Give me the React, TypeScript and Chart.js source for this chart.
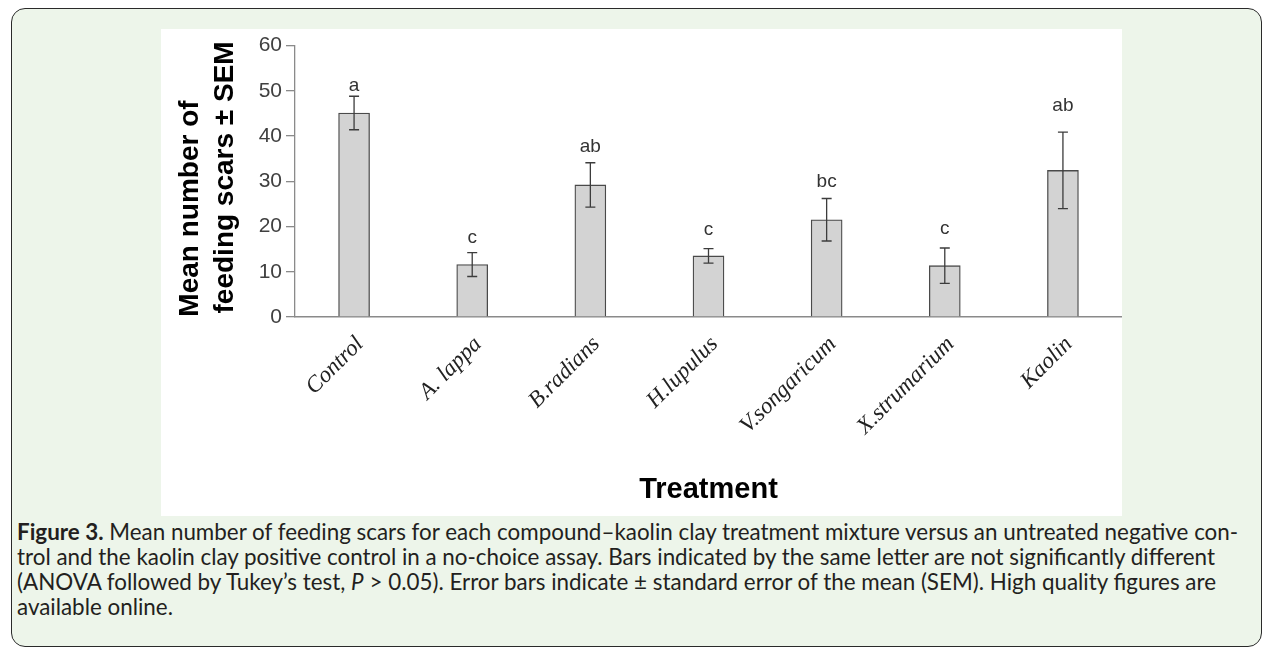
import React, { useEffect, useRef } from 'react';
import { Chart, registerables } from 'chart.js';

Chart.register(...registerables);

// ---- data ----
const categories = ['Control', 'A. lappa', 'B.radians', 'H.lupulus', 'V.songaricum', 'X.strumarium', 'Kaolin'];
const meanScars = [45.1, 11.6, 29.2, 13.5, 21.5, 11.35, 32.4];
const semScars = [3.7, 2.65, 4.9, 1.6, 4.7, 3.9, 8.45];
const groupLetters = ['a', 'c', 'ab', 'c', 'bc', 'c', 'ab'];
const letterLevels = [49.9, 16.4, 36.4, 18.1, 28.8, 18.4, 45.5];
const yTickValues = [0, 10, 20, 30, 40, 50, 60];
const yTitleLines = ['Mean number of\u00a0\u00a0\u00a0\u00a0\u00a0\u00a0\u00a0', '\u00a0feeding scars \u00b1 SEM'];
const xTitle = 'Treatment';

const captionLines = [
  [{ b: 'Figure 3.' }, { t: ' Mean number of feeding scars for each compound\u2013kaolin clay treatment mixture versus an untreated negative con-' }],
  [{ t: 'trol and the kaolin clay positive control in a no-choice assay. Bars indicated by the same letter are not significantly different' }],
  [{ t: '(ANOVA followed by Tukey\u2019s test, ' }, { i: 'P' }, { t: ' > 0.05). Error bars indicate \u00b1 standard error of the mean (SEM). High quality figures are' }],
  [{ t: 'available online.' }],
];

const errorAndLetters = {
  id: 'errorAndLetters',
  afterDatasetsDraw(chart: any) {
    const { ctx, scales } = chart;
    const x = scales.x;
    const y = scales.y;
    ctx.save();
    ctx.strokeStyle = '#3c3c3c';
    ctx.lineWidth = 1.3;
    const cap = 5;
    meanScars.forEach((m, i) => {
      const px = x.getPixelForValue(i);
      const top = y.getPixelForValue(m + semScars[i]);
      const bot = y.getPixelForValue(m - semScars[i]);
      ctx.beginPath();
      ctx.moveTo(px, top);
      ctx.lineTo(px, bot);
      ctx.moveTo(px - cap, top);
      ctx.lineTo(px + cap, top);
      ctx.moveTo(px - cap, bot);
      ctx.lineTo(px + cap, bot);
      ctx.stroke();
    });
    ctx.fillStyle = '#333333';
    ctx.font = '19px "Liberation Sans", Arial, sans-serif';
    ctx.textAlign = 'center';
    ctx.textBaseline = 'alphabetic';
    groupLetters.forEach((l, i) => {
      ctx.fillText(l, x.getPixelForValue(i), y.getPixelForValue(letterLevels[i]));
    });
    ctx.restore();
  },
};

export default function App() {
  const canvasRef = useRef<HTMLCanvasElement>(null);

  useEffect(() => {
    if (!canvasRef.current) return;
    const chart = new Chart(canvasRef.current, {
      type: 'bar',
      data: {
        labels: categories,
        datasets: [
          {
            data: meanScars,
            backgroundColor: '#d3d3d3',
            borderColor: '#4a4a4a',
            borderWidth: 1.3,
            barThickness: 31,
          },
        ],
      },
      options: {
        animation: false,
        responsive: true,
        maintainAspectRatio: false,
        layout: { padding: { left: 0, right: -19.4, top: 13.5, bottom: 0 } },
        plugins: {
          legend: { display: false },
          tooltip: { enabled: false },
        },
        scales: {
          x: {
            grid: { display: false, drawTicks: false },
            border: { display: true, color: '#8a8a8a', width: 1.5 },
            ticks: {
              autoSkip: false,
              maxRotation: 45,
              minRotation: 45,
              padding: 14,
              labelOffset: 6,
              color: '#222222',
              font: { family: '"Liberation Serif", "Times New Roman", serif', style: 'italic', size: 23 },
            },
            title: {
              display: true,
              text: xTitle,
              color: '#000000',
              font: { family: '"Liberation Sans", Arial, sans-serif', weight: 'bold', size: 29 },
              padding: { top: 0, bottom: 9 },
            },
            afterFit: (scale: any) => {
              scale.height = 199;
            },
          },
          y: {
            min: 0,
            max: 60,
            afterBuildTicks: (scale: any) => {
              scale.ticks = yTickValues.map((v) => ({ value: v }));
            },
            grid: { drawOnChartArea: false, drawTicks: true, tickLength: 9, color: '#8a8a8a', lineWidth: 1.3 },
            border: { display: true, color: '#8a8a8a', width: 1.3 },
            ticks: {
              padding: 4,
              color: '#404040',
              font: { family: '"Liberation Sans", Arial, sans-serif', size: 21 },
            },
            title: {
              display: true,
              text: yTitleLines,
              color: '#000000',
              font: { family: '"Liberation Sans", Arial, sans-serif', weight: 'bold', size: 28, lineHeight: 1.25 },
              padding: { top: 12, bottom: 0 },
            },
            afterFit: (scale: any) => {
              scale.width = 134;
            },
          },
        },
      },
      plugins: [errorAndLetters],
    } as any);
    return () => chart.destroy();
  }, []);

  return (
    <div style={{ position: 'absolute', left: 0, top: 0, width: 1268, height: 650, overflow: 'hidden', background: '#ffffff' }}>
      <div
        style={{
          position: 'absolute',
          left: 11,
          top: 8,
          width: 1251,
          height: 639,
          boxSizing: 'border-box',
          border: '1.5px solid #2a2a2a',
          borderRadius: 14,
          background: '#edf5ea',
        }}
      />
      <div style={{ position: 'absolute', left: 161, top: 29, width: 961, height: 487, background: '#ffffff' }}>
        <canvas ref={canvasRef} />
      </div>
      <div
        style={{
          position: 'absolute',
          left: 17,
          top: 519,
          fontFamily: 'Lato, "Open Sans", sans-serif',
          fontSize: 22.4,
          lineHeight: '25px',
          color: '#231f20',
        }}
      >
        {captionLines.map((line, li) => (
          <div key={li} style={{ whiteSpace: 'nowrap' }}>
            {line.map((seg: any, si) =>
              seg.b ? (
                <b key={si}>{seg.b}</b>
              ) : seg.i ? (
                <i key={si}>{seg.i}</i>
              ) : (
                <span key={si}>{seg.t}</span>
              )
            )}
          </div>
        ))}
      </div>
    </div>
  );
}
